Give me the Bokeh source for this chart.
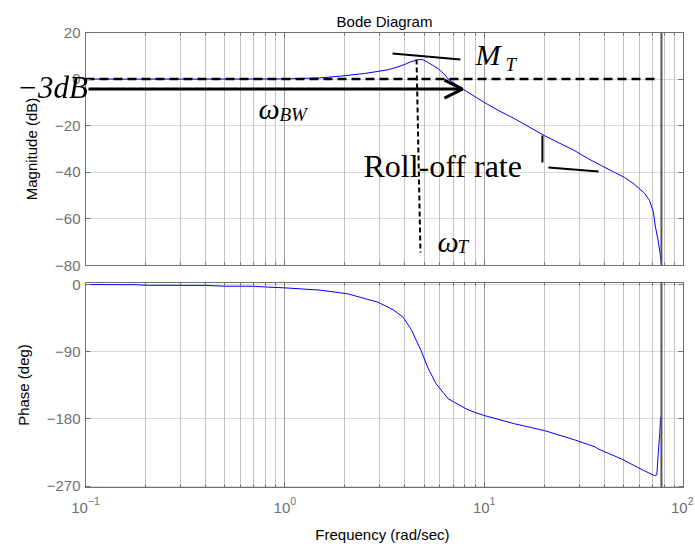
import numpy as np
from bokeh.plotting import figure
from bokeh.layouts import column
from bokeh.models import (FixedTicker, LogAxis, LinearAxis, Span, Label, Arrow, OpenHead,
                          CustomJSTickFormatter, Div)
from bokeh.core.enums import SpatialUnits
from bokeh.embed import file_html
from bokeh.resources import INLINE

# ---- data ----
freq_mag = [0.1, 0.2, 0.5, 1.0, 1.5, 1.91, 2.5, 2.93, 3.3, 3.61, 4.0, 4.3, 4.66, 4.9,
            5.12, 5.5, 5.87, 6.3, 6.6, 7.2, 7.83, 8.9, 10, 12, 14.2, 17, 20, 22.5,
            28.3, 33, 38.7, 45, 50.6, 57, 63.7, 67.5, 70.6, 72.4, 74.5, 76.6, 77.3]
mag_db = [0, 0, 0, 0.1, 0.5, 1.3, 2.4, 3.3, 4.0, 5.0, 6.3, 7.5, 8.3, 8.4,
          7.6, 6.0, 4.5, 2.2, 0, -2.2, -4.3, -7.3, -10, -13.8, -17, -20.8, -24.2, -26.4,
          -30.6, -34, -37.1, -40, -42.2, -45.3, -49, -52, -57, -63.7, -69, -75.7, -79]

freq_phase = [0.1, 0.18, 0.2, 0.4, 0.49, 0.69, 0.8, 1.0, 1.5, 2.07, 2.93, 3.5, 3.92,
              4.3, 4.82, 5.25, 5.74, 6.59, 8.12, 8.9, 10, 14.2, 20, 28.3, 36, 37.4,
              48.7, 62.9, 71.5, 73.5, 74.9, 76.0, 76.7]
phase_deg = [0, -0.3, -1, -1.2, -2.2, -2.3, -3.3, -4.5, -7.5, -12.5, -23.7, -34, -43.8,
             -60, -88.4, -113, -133, -153, -166.6, -171, -175.5, -186.6, -195.6, -208, -217.5, -220.5,
             -233.6, -249, -256, -255, -222, -200, -178]

x_major = [0.1, 1, 10, 100]
x_minor = [m * 10.0 ** e for e in (-1, 0, 1) for m in range(2, 10)]
mag_ticks = [20, 0, -20, -40, -60, -80]
phase_ticks = [0, -90, -180, -270]
nyquist_freq = 77.5

GRAY = "#707070"
TICKFONT = "Liberation Sans"
SERIF = "Liberation Serif"


def hide_labels(a):
    a.formatter = CustomJSTickFormatter(code="return '';")
    a.major_label_text_font_size = "2px"
    a.major_label_text_color = None
    a.major_label_standoff = 0


def style(p, yticks, show_x_labels):
    p.outline_line_color = GRAY
    p.background_fill_color = "white"
    p.border_fill_color = "white"
    xt = FixedTicker(ticks=x_major, minor_ticks=x_minor)
    ax = p.xaxis[0]
    ax.ticker = xt
    p.xgrid.ticker = xt
    ax.axis_line_color = GRAY
    ax.major_tick_in = 5
    ax.major_tick_out = 0
    ax.minor_tick_in = 3
    ax.minor_tick_out = 0
    ax.major_tick_line_color = GRAY
    ax.minor_tick_line_color = GRAY
    ax.major_label_text_font = TICKFONT
    ax.major_label_text_color = GRAY
    ax.axis_label_text_font = TICKFONT
    ax.axis_label_text_font_size = "15px"
    ax.axis_label_text_font_style = "normal"
    ax.axis_label_text_color = "black"
    if show_x_labels:
        ax.major_label_text_font_size = "15px"
        ax.major_label_standoff = 9
        ax.axis_label_standoff = 10
    else:
        hide_labels(ax)
    top_ax = LogAxis(ticker=xt, major_tick_in=5, major_tick_out=0, minor_tick_in=3, minor_tick_out=0,
                     major_tick_line_color=GRAY, minor_tick_line_color=GRAY, axis_line_color=GRAY)
    hide_labels(top_ax)
    p.add_layout(top_ax, "above")

    yt = FixedTicker(ticks=yticks)
    ay = p.yaxis[0]
    ay.ticker = yt
    p.ygrid.ticker = yt
    ay.axis_line_color = GRAY
    ay.major_tick_in = 5
    ay.major_tick_out = 0
    ay.minor_tick_line_color = None
    ay.major_tick_line_color = GRAY
    ay.major_label_text_font = TICKFONT
    ay.major_label_text_font_size = "15px"
    ay.major_label_text_color = GRAY
    ay.major_label_standoff = 5
    ay.axis_label_text_font = TICKFONT
    ay.axis_label_text_font_size = "15px"
    ay.axis_label_text_font_style = "normal"
    ay.axis_label_text_color = "black"
    ay.axis_label_standoff = 12
    right_ax = LinearAxis(ticker=yt, major_tick_in=5, major_tick_out=0, minor_tick_line_color=None,
                          major_tick_line_color=GRAY, axis_line_color=GRAY)
    hide_labels(right_ax)
    p.add_layout(right_ax, "right")

    p.xgrid.grid_line_color = "#a0a0a0"
    p.xgrid.minor_grid_line_color = "#c4c4c4"
    p.ygrid.grid_line_color = "#b4b4b4"
    p.ygrid.grid_line_dash = "1 1"
    p.add_layout(Span(location=nyquist_freq, dimension="height", line_color="#555555", line_width=2))


# ---------------- magnitude panel ----------------
top = figure(x_axis_type="log", x_range=(0.1, 100), y_range=(-80, 20),
             frame_width=598, frame_height=233,
             min_border_left=85, min_border_right=10, min_border_top=32, min_border_bottom=9,
             output_backend="svg", toolbar_location=None, y_axis_label="Magnitude (dB)",
             title="Bode Diagram")
top.title.align = "center"
top.title.text_font = TICKFONT
top.title.text_font_size = "15px"
top.title.text_font_style = "normal"
top.title.text_color = "black"
top.title.standoff = 5
style(top, mag_ticks, False)

top.line(freq_mag, mag_db, line_color="#0000ff", line_width=1)

# annotations
top.line([0.1, 75], [0, 0], line_color="black", line_width=2.5, line_dash="9 5")
top.line([4.58, 4.79], [8.4, -74.4], line_color="black", line_width=2, line_dash="5 3")
top.line([3.47, 7.60], [11.0, 8.4], line_color="black", line_width=2)
top.line([19.6, 19.6], [-24.2, -35.8], line_color="black", line_width=2)
top.line([21.0, 37.5], [-37.9, -39.7], line_color="black", line_width=2)
top.add_layout(Arrow(end=OpenHead(size=18, line_width=3, line_color="black"),
                     x_start=0.1035, y_start=-4.3, x_end=7.78, y_end=-4.3,
                     line_width=3, line_color="black"))

DY = 4.7  # baseline correction (px offset expressed in dB)


def lab(p, x, y, text, size, style_="italic", font=SERIF, align="left", **kw):
    p.add_layout(Label(x=x, y=y + DY, text=text, text_font=font, text_font_size=f"{size}px",
                       text_font_style=style_, text_align=align, text_baseline="alphabetic",
                       text_color="black", **kw))


lab(top, 9.05, 5.84, "M", 30)
lab(top, 12.8, 1.5, "T", 19)
lab(top, 0.738, -17.3, "\u03c9", 30)
lab(top, 0.94, -19.9, "BW", 19)
lab(top, 2.48, -42.2, "Roll-off rate", 32, style_="normal")
lab(top, 5.83, -74.4, "\u03c9", 30)
lab(top, 7.34, -76.6, "T", 19)

extra = []
if "canvas" in SpatialUnits:
    # "-3dB" lies left of the frame, so place it in canvas pixels (not clipped)
    top.add_layout(Label(x=82, y=87, x_units="canvas", y_units="canvas", text="\u22123dB",
                         text_font=SERIF, text_font_size="31px", text_font_style="italic",
                         text_align="right", text_baseline="alphabetic", text_color="black",
                         level="overlay"))
else:
    extra.append(Div(text='<span style="position:fixed;left:17px;top:70px;'
                          'font:italic 31px \'Liberation Serif\';color:black;">\u22123dB</span>',
                     width=1, height=1))

# ---------------- phase panel ----------------
bot = figure(x_axis_type="log", x_range=(0.1, 100), y_range=(-272, 2.7),
             frame_width=598, frame_height=205,
             min_border_left=85, min_border_right=10, min_border_top=8, min_border_bottom=50,
             output_backend="svg", toolbar_location=None, y_axis_label="Phase (deg)",
             x_axis_label="Frequency  (rad/sec)")
style(bot, phase_ticks, True)
bot.line(freq_phase, phase_deg, line_color="#0000ff", line_width=1)

layout = column(top, bot, *extra, spacing=0)
open("out.html", "w").write(file_html(layout, INLINE))
